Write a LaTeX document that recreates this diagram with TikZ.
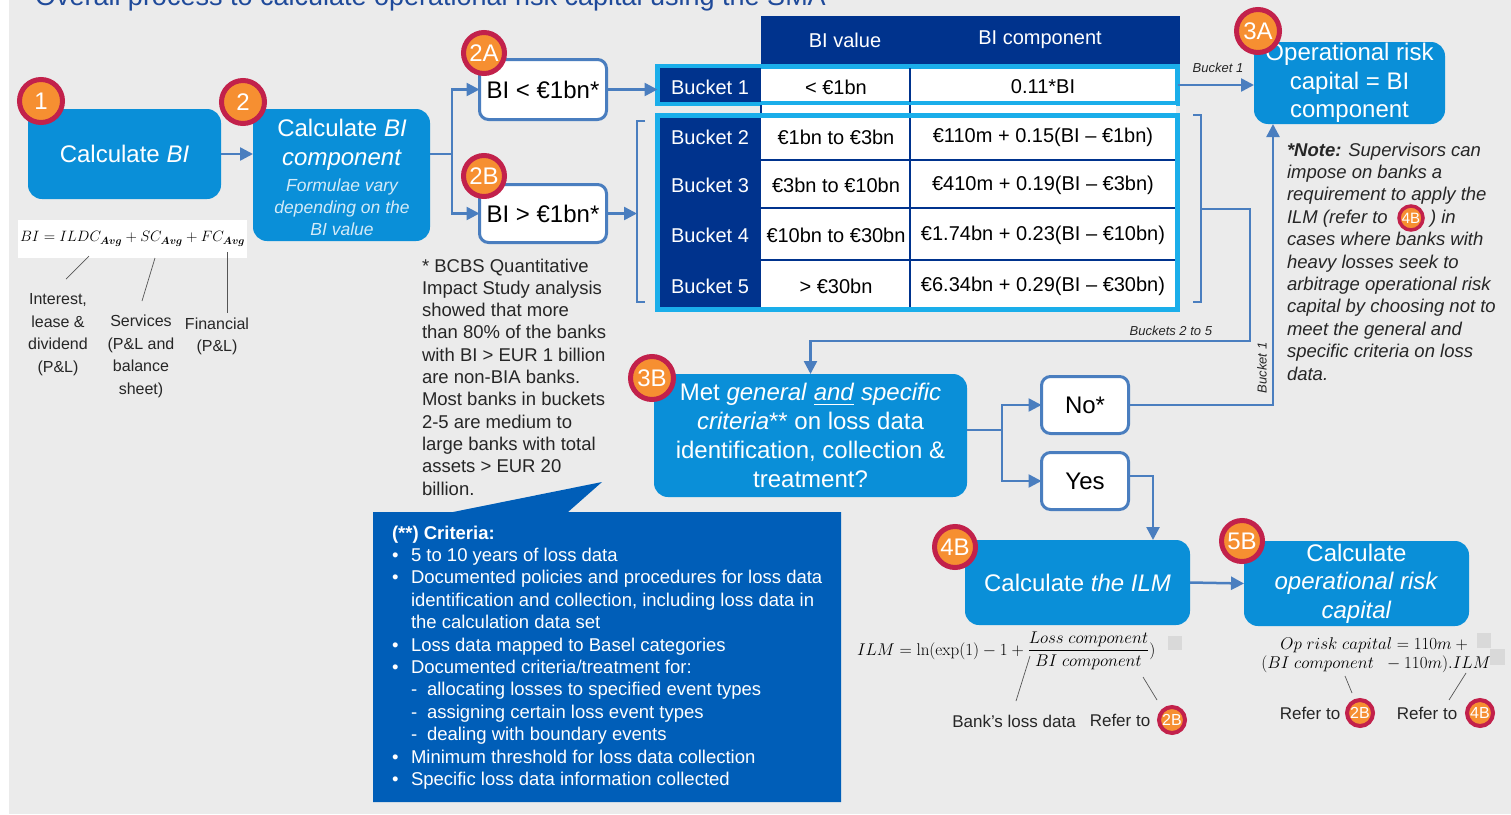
\RequirePackage{fix-cm}
\documentclass[tikz,border=0pt]{standalone}
\usepackage{amsmath}
\usepackage[no-math]{fontspec}
\setmainfont{Liberation Sans}
\usetikzlibrary{arrows.meta}

\definecolor{pagebg}{HTML}{EBEBEB}
\definecolor{boxblue}{HTML}{0A8FD8}
\definecolor{lineblue}{HTML}{4A7EBF}
\definecolor{navy}{HTML}{00338D}
\definecolor{tcyan}{HTML}{1AAEEA}
\definecolor{callblue}{HTML}{005EB8}
\definecolor{bred}{HTML}{C2214B}
\definecolor{borange}{HTML}{F68F31}
\definecolor{titleblue}{HTML}{1F4A9A}
\definecolor{ink}{HTML}{262626}
\definecolor{leadgrey}{HTML}{555555}
\definecolor{subtxt}{HTML}{D4EBF8}
\definecolor{sqgrey}{HTML}{D9D9D9}

\newcommand\fsz[2]{\fontsize{#1}{#2}\selectfont}

\begin{document}
\begin{tikzpicture}[x=1pt,y=-1pt,
  every node/.style={inner sep=0pt, outer sep=0pt},
  bluebox/.style={fill=boxblue, rounded corners=14pt, text=white, align=center},
  whitebox/.style={fill=white, draw=lineblue, line width=3pt, rounded corners=9pt, font=\fsz{24}{28}},
  conn/.style={draw=lineblue, line width=2.5pt},
  arr/.style={conn, -{Triangle[length=13pt,width=13pt]}},
  bracket/.style={draw=lineblue, line width=1.8pt},
  leader/.style={draw=leadgrey, line width=0.7pt},
  badge/.style={circle, fill=borange, draw=bred, line width=5pt, text=white, minimum size=43pt, font=\fsz{24}{24}},
  minibadge/.style={circle, fill=borange, draw=bred, line width=4pt, text=white, minimum size=26pt, font=\fsz{16}{16}},
  cell/.style={font=\fsz{20}{24}},
  hdr/.style={text=white, font=\fsz{20}{24}},
  tag/.style={font=\itshape\fsz{13}{15}, text=ink},
  note/.style={anchor=base west, text=ink, font=\fsz{18.5}{22}},
  crit/.style={anchor=base west, text=white, font=\fsz{18.5}{22}},
  lbl/.style={align=center, text=ink, font=\fsz{16}{22.5}},
]
\useasboundingbox (0,0) rectangle (1511,814);
\fill[white] (0,0) rectangle (1511,814);
\fill[pagebg] (9,0) rectangle (1511,814);

% heading (runs off the top edge)
\node[anchor=base west, text=titleblue, font=\fsz{27}{30}] (title) at (35,5)
  {Overall process to calculate operational risk capital using the SMA};

% ---------- step 1 and 2 ----------
\node[bluebox, minimum width=193, minimum height=90, font=\fsz{24}{28}] (n1) at (124.5,154) {Calculate \textit{BI}};
\node[bluebox, minimum width=177, minimum height=132] (n2) at (341.5,175) {};
\node[align=center, text=white, font=\fsz{24}{29}] (n2t) at (342,145) {Calculate \textit{BI}\\\textit{component}};
\node[align=center, text=subtxt, font=\itshape\fsz{17.5}{22}] (n2s) at (342,207) {Formulae vary\\depending on the\\BI value};

\draw[arr] (n1.east) -- (n1.east -| n2.west);

% BI formula with its parts
\node[fill=white, minimum width=229, minimum height=38, font=\fsz{15}{18}] (fbi) at (132.5,239)
  {$BI = ILDC_{\boldsymbol{Avg}} + SC_{\boldsymbol{Avg}} + FC_{\boldsymbol{Avg}}$};
\node[lbl] (lint) at (58,334.5) {Interest,\\lease \&\\dividend\\(P\&L)};
\node[lbl] (lsvc) at (141,356.5) {Services\\(P\&L and\\balance\\sheet)};
\node[lbl] (lfin) at (217,336.5) {Financial\\(P\&L)};
\draw[leader] (89,256) -- (66,279);
\draw[leader] (155,258) -- (142,301);
\draw[leader] (227,252) -- (227,313);

% ---------- 2A / 2B ----------
\node[whitebox, minimum width=127, minimum height=60] (n2a) at (543,89.5) {BI < €1bn*};
\node[whitebox, minimum width=127, minimum height=58] (n2b) at (543,213.5) {BI > €1bn*};
\draw[conn] (n1.east -| n2.east) -- ++(22,0) coordinate (sp1);
\draw[arr] (sp1) |- (n2a.west);
\draw[arr] (sp1) |- (n2b.west);

% ---------- bucket table ----------
\node[fill=navy, minimum width=419, minimum height=48, anchor=north west] (thead) at (761,16) {};
\node[hdr] (hv) at (845,40) {BI value};
\node[hdr] (hc) at (1040,40) {BI component};

\node[draw=tcyan, line width=5pt, fill=white, minimum width=520, minimum height=37] (b1) at (917.5,85) {};
\fill[navy] (660,68) rectangle (761,102);
\draw[navy, line width=2pt] (910,68) -- (910,102);

\fill[white] (761,105) rectangle (1176,114);
\draw[navy, line width=2pt] (761,105) -- (761,114) (910,105) -- (910,114);

\node[draw=tcyan, line width=5pt, fill=white, minimum width=520, minimum height=194] (b25) at (917.5,212.5) {};
\fill[navy] (660,118) rectangle (761,307);
\draw[navy, line width=2pt] (910,118) -- (910,307);
\draw[navy, line width=2pt] (761,160) -- (1175,160) (761,208) -- (1175,208) (761,260) -- (1175,260);

\node[cell, text=white] (k1) at (710,87) {Bucket 1};
\node[cell] (v1) at (836,87) {< €1bn};
\node[cell] (f1) at (1043,87) {0.11*BI};
\node[cell, text=white] (k2) at (710,137) {Bucket 2};
\node[cell] (v2) at (836,137) {€1bn to €3bn};
\node[cell] (f2) at (1043,137) {€110m + 0.15(BI – €1bn)};
\node[cell, text=white] (k3) at (710,185) {Bucket 3};
\node[cell] (v3) at (836,185) {€3bn to €10bn};
\node[cell] (f3) at (1043,185) {€410m + 0.19(BI – €3bn)};
\node[cell, text=white] (k4) at (710,235) {Bucket 4};
\node[cell] (v4) at (836,235) {€10bn to €30bn};
\node[cell] (f4) at (1043,235) {€1.74bn + 0.23(BI – €10bn)};
\node[cell, text=white] (k5) at (710,286) {Bucket 5};
\node[cell] (v5) at (836,286) {> €30bn};
\node[cell] (f5) at (1043,286) {€6.34bn + 0.29(BI – €30bn)};

% brackets round buckets 2 to 5
\draw[bracket] (645,121) -- (637,121) -- (637,302) -- (645,302);
\coordinate (lb) at (637,214);
\draw[bracket] (1193,115) -- (1201,115) -- (1201,302) -- (1193,302);
\coordinate (rb) at (1201,209);

\draw[arr] (n2a.east) -- (n2a.east -| b1.west);
\draw[arr] (n2b.east) -- (n2b.east -| lb);

% ---------- 3A ----------
\node[bluebox, minimum width=191, minimum height=82, font=\fsz{24}{28.5}] (n3a) at (1349.5,83) {Operational risk\\capital = BI\\component};
\draw[arr] (b1.east) -- (b1.east -| n3a.west);
\node[tag] (t1) at (1218,68) {Bucket 1};

% ---------- 3B ----------
\node[bluebox, minimum width=313, minimum height=123, font=\fsz{24}{29}] (n3b) at (810.5,435.5)
  {Met \textit{general} \underline{\textit{and}} \textit{specific}\\\textit{criteria}** on loss data\\identification, collection \&\\treatment?};
\draw[arr] (rb) -- (1250,209) -- (1250,341) -| (n3b.north);
\node[tag, anchor=east] (t25) at (1212,331) {Buckets 2 to 5};

\node[whitebox, minimum width=87, minimum height=57] (nno) at (1085,405) {No*};
\node[whitebox, minimum width=87, minimum height=57] (nyes) at (1085,481) {Yes};
\draw[conn] ([yshift=5.5pt]n3b.east) -- ++(35,0) coordinate (sp2);
\draw[arr] (sp2) |- (nno.west);
\draw[arr] (sp2) |- (nyes.west);
\draw[arr] (nno.east) -| ([xshift=-76.5pt]n3a.south);
\node[tag, rotate=90] (t1b) at (1262,368) {Bucket 1};

% ---------- 4B / 5B ----------
\node[bluebox, minimum width=225, minimum height=85, font=\fsz{24}{28}] (n4b) at (1077.5,582.5) {Calculate \textit{the ILM}};
\node[bluebox, minimum width=225, minimum height=85, font=\fsz{24}{28.5}] (n5b) at (1356.5,583.5) {Calculate\\\textit{operational risk}\\\textit{capital}};
\draw[arr] ([yshift=5pt]nyes.east) -| ([xshift=75.5pt]n4b.north);
\draw[arr] (n4b.east) -- (n5b.west);

% ILM formula
\node[anchor=west, font=\fsz{17}{20}] (film) at (857,651)
  {$ILM = \ln(\exp(1) - 1 + \dfrac{Loss\ component}{BI\ component})$};
\fill[sqgrey] (1168,636) rectangle (1182,650);
\node[text=ink, font=\fsz{17}{20}] (lbank) at (1014,721) {Bank’s loss data};
\node[text=ink, font=\fsz{17}{20}] (lref1) at (1120,720) {Refer to};
\node[minibadge] (r2b) at (1172,720) {2B};
\draw[leader] (1030,656) -- (1016,701);
\draw[leader] (1143,677) -- (1157,700);

% capital formula
\node[align=center, font=\fsz{17}{19.5}] (fop) at (1376,655)
  {$Op\ risk\ capital = 110m +{}$\\$(BI\ component\ \ - 110m).ILM$};
\fill[sqgrey] (1477,633) rectangle (1491,648);
\fill[sqgrey] (1490,649) rectangle (1505,665);
\node[text=ink, font=\fsz{17}{20}] (lref2) at (1310,713) {Refer to};
\node[minibadge] (r2b2) at (1360,713) {2B};
\node[text=ink, font=\fsz{17}{20}] (lref3) at (1427,713) {Refer to};
\node[minibadge] (r4b) at (1480,713) {4B};
\draw[leader] (1345,676) -- (1352,693);
\draw[leader] (1466,673) -- (1449,700);

% ---------- notes ----------
\foreach \t [count=\i] in {{* BCBS Quantitative},{Impact Study analysis},{showed that more},{than 80\% of the banks},{with BI > EUR 1 billion},{are non-BIA banks.},{Most banks in buckets},{2-5 are medium to},{large banks with total},{assets > EUR 20},{billion.}}
  \node[note] (mn\i) at (422,{272+22.3*(\i-1)}) {\t};

\foreach \t [count=\i] in {{\textbf{*Note:} Supervisors can},{impose on banks a},{requirement to apply the}}
  \node[note, font=\itshape\fsz{18.5}{22}] (rn\i) at (1287,{156+22.4*(\i-1)}) {\t};
\node[note, font=\itshape\fsz{18.5}{22}] (rn4) at (1287,223.2) {ILM (refer to};
\node[minibadge, minimum size=24pt, line width=3.5pt, font=\fsz{15}{15}] (nb4) at (1411,218) {4B};
\node[note, font=\itshape\fsz{18.5}{22}] (rn4b) at (1430,223.2) {) in};
\foreach \t [count=\i from 5] in {{cases where banks with},{heavy losses seek to},{arbitrage operational risk},{capital by choosing not to},{meet the general and},{specific criteria on loss},{data.}}
  \node[note, font=\itshape\fsz{18.5}{22}] (rn\i) at (1287,{156+22.4*(\i-1)}) {\t};

% ---------- criteria call-out ----------
\fill[callblue] (373,512) -- (453,512) -- (602,482) -- (568,512) -- (841,512) -- (841,802) -- (373,802) -- cycle;
\node[crit, font=\bfseries\fsz{18.5}{22}] (c0) at (392,539) {(**) Criteria:};
\node[crit] (c1m) at (392,561.4) {•};
\node[crit] (c1) at (411,561.4) {5 to 10 years of loss data};
\node[crit] (c2m) at (392,583.8) {•};
\node[crit] (c2) at (411,583.8) {Documented policies and procedures for loss data};
\node[crit] (c3) at (411,606.2) {identification and collection, including loss data in};
\node[crit] (c4) at (411,628.6) {the calculation data set};
\node[crit] (c5m) at (392,651) {•};
\node[crit] (c5) at (411,651) {Loss data mapped to Basel categories};
\node[crit] (c6m) at (392,673.4) {•};
\node[crit] (c6) at (411,673.4) {Documented criteria/treatment for:};
\node[crit] (c7m) at (411,695.8) {-};
\node[crit] (c7) at (427,695.8) {allocating losses to specified event types};
\node[crit] (c8m) at (411,718.2) {-};
\node[crit] (c8) at (427,718.2) {assigning certain loss event types};
\node[crit] (c9m) at (411,740.6) {-};
\node[crit] (c9) at (427,740.6) {dealing with boundary events};
\node[crit] (c10m) at (392,763) {•};
\node[crit] (c10) at (411,763) {Minimum threshold for loss data collection};
\node[crit] (c11m) at (392,785.4) {•};
\node[crit] (c11) at (411,785.4) {Specific loss data information collected};

% ---------- step badges ----------
\node[badge] (bg1) at (41,101) {1};
\node[badge] (bg2) at (243,102) {2};
\node[badge, minimum size=41pt] (bg2a) at (484,53) {2A};
\node[badge, minimum size=41pt] (bg2b) at (484,176) {2B};
\node[badge] (bg3a) at (1258,31) {3A};
\node[badge] (bg3b) at (652,378) {3B};
\node[badge, minimum size=41pt] (bg4b) at (955,547) {4B};
\node[badge, minimum size=41pt] (bg5b) at (1242,541) {5B};
\end{tikzpicture}
\end{document}
